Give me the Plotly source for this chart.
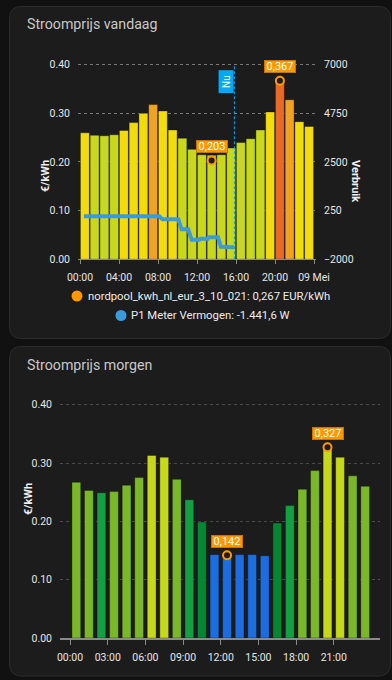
import plotly.graph_objects as go

# ---------------- data ----------------
hours = list(range(24))

price_today = [0.260, 0.255, 0.254, 0.256, 0.265, 0.281, 0.300, 0.318, 0.305, 0.266,
               0.249, 0.226, 0.215, 0.214, 0.215, 0.229, 0.240, 0.248, 0.266, 0.303,
               0.372, 0.328, 0.283, 0.273]
# price band per hour as shown by the bar colours (L=low, M=mid, H=high, P=peak)
band_today = ["M", "L", "L", "L", "M", "M", "M", "H", "M", "M", "L", "L",
              "L", "L", "L", "L", "L", "L", "L", "M", "P", "H", "M", "M"]
price_tomorrow = [0.267, 0.253, 0.249, 0.251, 0.262, 0.275, 0.313, 0.310, 0.272, 0.237,
                  0.199, 0.143, 0.143, 0.143, 0.143, 0.141, 0.197, 0.227, 0.255, 0.287,
                  0.327, 0.310, 0.278, 0.260]

p1_times = ["00:24", "08:08", "08:27", "10:05", "10:25", "11:06", "11:27", "12:15",
            "12:21", "13:06", "13:12", "14:09", "14:27", "15:48"]
p1_watts = [-5, -5, -150, -150, -615, -615, -1100, -1100, -1050, -1050, -975, -975,
            -1420, -1442]

now_time = "15:50"
min_today = ("13:30", 0.203, "0,203")
max_today = ("20:30", 0.367, "0,367")
min_tomorrow = ("12:30", 0.142, "0,142")
max_tomorrow = ("20:30", 0.327, "0,327")

x_tickvals_today = [0, 4, 8, 12, 16, 20, 24]
x_ticktext_today = ["00:00", "04:00", "08:00", "12:00", "16:00", "20:00", "09 Mei"]
x_tickvals_tomorrow = [0, 3, 6, 9, 12, 15, 18, 21]
x_ticktext_tomorrow = ["00:00", "03:00", "06:00", "09:00", "12:00", "15:00", "18:00", "21:00"]
y_ticks_price = [0.0, 0.1, 0.2, 0.3, 0.4]
y_ticks_power = [-2000, 250, 2500, 4750, 7000]

title_today = "Stroomprijs vandaag"
title_tomorrow = "Stroomprijs morgen"
legend_price = "nordpool_kwh_nl_eur_3_10_021: 0,267 EUR/kWh"
legend_power = "P1 Meter Vermogen: -1.441,6 W"

# ---------------- helpers ----------------
W, H = 392, 680

BAND_COLORS_TODAY = {"L": "#c8d81e", "M": "#f2dc0e", "H": "#efa224", "P": "#e86a26"}


def px(x):
    return x / W


def py(y):
    return 1 - y / H


def hh(t):
    h, m = t.split(":")
    return int(h) + int(m) / 60


def color_tomorrow(v):
    if v < 0.15:
        return "#1c6ee0"
    if v < 0.20:
        return "#048632"
    if v < 0.25:
        return "#12a042"
    if v < 0.30:
        return "#7ab82a"
    return "#c6d81a"


def rounded_rect(x0, y0, x1, y1, r):
    pts = []
    pts.append(f"M{px(x0 + r)},{py(y0)}")
    pts.append(f"L{px(x1 - r)},{py(y0)}")
    pts.append(f"Q{px(x1)},{py(y0)} {px(x1)},{py(y0 + r)}")
    pts.append(f"L{px(x1)},{py(y1 - r)}")
    pts.append(f"Q{px(x1)},{py(y1)} {px(x1 - r)},{py(y1)}")
    pts.append(f"L{px(x0 + r)},{py(y1)}")
    pts.append(f"Q{px(x0)},{py(y1)} {px(x0)},{py(y1 - r)}")
    pts.append(f"L{px(x0)},{py(y0 + r)}")
    pts.append(f"Q{px(x0)},{py(y0)} {px(x0 + r)},{py(y0)}")
    pts.append("Z")
    return " ".join(pts)


# pixel geometry of the plot areas
TOP_Y0, TOP_PER = 259.3, 486.5      # pixel of 0.00, px per 1.0 €/kWh
BOT_Y0, BOT_PER = 638.0, 583.3
YMAX = 0.41

fig = go.Figure()

# top bars
fig.add_trace(go.Bar(
    x=[h + 0.5 for h in hours], y=price_today, width=0.92,
    marker=dict(color=[BAND_COLORS_TODAY[b] for b in band_today],
                line=dict(color="rgba(0,0,0,0.35)", width=1)),
    xaxis="x", yaxis="y", hoverinfo="skip"))

# P1 line
fig.add_trace(go.Scatter(
    x=[hh(t) for t in p1_times], y=p1_watts, mode="lines",
    line=dict(color="#3a9bdc", width=4),
    xaxis="x", yaxis="y2", hoverinfo="skip"))

# top markers
fig.add_trace(go.Scatter(
    x=[hh(min_today[0]), hh(max_today[0])], y=[min_today[1], max_today[1]],
    mode="markers",
    marker=dict(size=8, color="#1c1c1c", line=dict(color="#ff9800", width=2)),
    xaxis="x", yaxis="y", hoverinfo="skip"))

# bottom bars
fig.add_trace(go.Bar(
    x=[h + 0.5 for h in hours], y=price_tomorrow, width=0.7,
    marker=dict(color=[color_tomorrow(v) for v in price_tomorrow],
                line=dict(color="rgba(0,0,0,0.3)", width=1)),
    xaxis="x2", yaxis="y3", hoverinfo="skip"))

fig.add_trace(go.Scatter(
    x=[hh(min_tomorrow[0]), hh(max_tomorrow[0])], y=[min_tomorrow[1], max_tomorrow[1]],
    mode="markers",
    marker=dict(size=8, color="#1c1c1c", line=dict(color="#ff9800", width=2)),
    xaxis="x2", yaxis="y3", hoverinfo="skip"))

tickfont = dict(family="Roboto", size=10.5, color="#e6e6e6")

fig.update_layout(
    width=W, height=H, autosize=False,
    margin=dict(l=0, r=0, t=0, b=0, pad=0, autoexpand=False),
    paper_bgcolor="#111111",
    plot_bgcolor="rgba(0,0,0,0)",
    showlegend=False,
    font=dict(family="Roboto", color="#e6e6e6"),
    xaxis=dict(domain=[px(78), px(316)], range=[-0.205, 24.205], anchor="y", automargin=False,
               tickvals=x_tickvals_today, ticktext=x_ticktext_today,
               showgrid=False, zeroline=False, showline=True, linecolor="#8a8a8a",
               ticks="outside", ticklen=4, tickcolor="#8a8a8a",
               tickfont=tickfont, ticklabelstandoff=4),
    yaxis=dict(domain=[py(TOP_Y0), py(TOP_Y0 - YMAX * TOP_PER)], range=[0, YMAX], anchor="x",
               automargin=False,
               tickvals=y_ticks_price, tickformat=".2f",
               showgrid=True, gridcolor="rgba(200,200,200,0.55)", griddash="3px,3px",
               zeroline=False, tickfont=tickfont, ticklabelstandoff=7),
    yaxis2=dict(range=[-2000, -2000 + 9000 * YMAX / 0.4], overlaying="y", side="right", anchor="x",
                automargin=False,
                tickvals=y_ticks_power, showgrid=False, zeroline=False,
                tickfont=tickfont, ticklabelstandoff=7),
    xaxis2=dict(domain=[px(60), px(380)], range=[-0.8, 24.68], anchor="y3", automargin=False,
                tickvals=x_tickvals_tomorrow, ticktext=x_ticktext_tomorrow,
                showgrid=False, zeroline=False, showline=True, linecolor="#8a8a8a",
                linewidth=1.5,
                ticks="outside", ticklen=5, tickcolor="#8a8a8a",
                tickfont=tickfont, ticklabelstandoff=4),
    yaxis3=dict(domain=[py(BOT_Y0), py(BOT_Y0 - YMAX * BOT_PER)], range=[0, YMAX], anchor="x2",
                automargin=False,
                tickvals=y_ticks_price, tickformat=".2f",
                showgrid=True, gridcolor="#4a4a4a", griddash="3px,3px",
                zeroline=False, tickfont=tickfont, ticklabelstandoff=7),
)

shapes = [
    dict(type="path", xref="paper", yref="paper", path=rounded_rect(9.5, 6.5, 390.5, 338.5, 12),
         fillcolor="#1c1c1c", line=dict(color="#2c2c2c", width=1), layer="below"),
    dict(type="path", xref="paper", yref="paper", path=rounded_rect(9.5, 346.5, 390.5, 676, 12),
         fillcolor="#1c1c1c", line=dict(color="#2c2c2c", width=1), layer="below"),
    dict(type="line", xref="x", yref="y", x0=hh(now_time), x1=hh(now_time), y0=0, y1=0.4,
         line=dict(color="#03a9f4", width=1, dash="3px,2px")),
    dict(type="circle", xref="paper", yref="paper",
         x0=px(71.5), x1=px(82.5), y0=py(301.5), y1=py(290.5),
         fillcolor="#ff9800", line=dict(width=0)),
    dict(type="circle", xref="paper", yref="paper",
         x0=px(115.5), x1=px(126.5), y0=py(321), y1=py(310),
         fillcolor="#3a9bdc", line=dict(width=0)),
]
fig.update_layout(shapes=shapes)

ann = []
ann.append(dict(xref="paper", yref="paper", x=px(25), y=py(24.5), xanchor="left", yanchor="middle",
                text=title_today, showarrow=False,
                font=dict(family="Roboto", size=14.2, color="#c8c8c8")))
ann.append(dict(xref="paper", yref="paper", x=px(25), y=py(364.5), xanchor="left", yanchor="middle",
                text=title_tomorrow, showarrow=False,
                font=dict(family="Roboto", size=14.2, color="#c8c8c8")))
# axis titles
ann.append(dict(xref="paper", yref="paper", x=px(36.5), y=py(158), textangle=-90,
                text="<b>€/kWh</b>", showarrow=False,
                font=dict(family="Roboto", size=11, color="#f0f0f0")))
ann.append(dict(xref="paper", yref="paper", x=px(364), y=py(157.5), textangle=90,
                text="<b>Verbruik</b>", showarrow=False,
                font=dict(family="Roboto", size=11, color="#f0f0f0")))
ann.append(dict(xref="paper", yref="paper", x=px(19.5), y=py(517), textangle=-90,
                text="<b>€/kWh</b>", showarrow=False,
                font=dict(family="Roboto", size=11, color="#f0f0f0")))
# legend
ann.append(dict(xref="paper", yref="paper", x=px(86), y=py(296), xanchor="left", yanchor="middle",
                text=legend_price, showarrow=False,
                font=dict(family="Roboto", size=11.3, color="#ececec")))
ann.append(dict(xref="paper", yref="paper", x=px(129), y=py(315.5), xanchor="left", yanchor="middle",
                text=legend_power, showarrow=False,
                font=dict(family="Roboto", size=11.3, color="#ececec")))
# point labels
for (t, v, lbl), xr, yr in [(min_today, "x", "y"), (max_today, "x", "y"),
                            (min_tomorrow, "x2", "y3"), (max_tomorrow, "x2", "y3")]:
    ann.append(dict(xref=xr, yref=yr, x=hh(t), y=v, text=lbl, showarrow=False, yshift=14,
                    bgcolor="#ff9800", bordercolor="#c87400", borderwidth=1, borderpad=0,
                    width=30, height=11,
                    font=dict(family="Roboto", size=11, color="#ffffff")))
# Nu label
ann.append(dict(xref="x", yref="paper", x=hh(now_time), y=py(81.3), xanchor="right", yanchor="middle",
                text="Nu", textangle=-90, showarrow=False, bgcolor="#03a9f4",
                borderpad=0, width=22, height=14,
                font=dict(family="Roboto", size=10, color="#ffffff")))
fig.update_layout(annotations=ann)

fig.write_html("out.html", include_plotlyjs=True,
               config={"displayModeBar": False, "responsive": False},
               post_script="document.body.style.margin='0';document.body.style.background='#111111';")
